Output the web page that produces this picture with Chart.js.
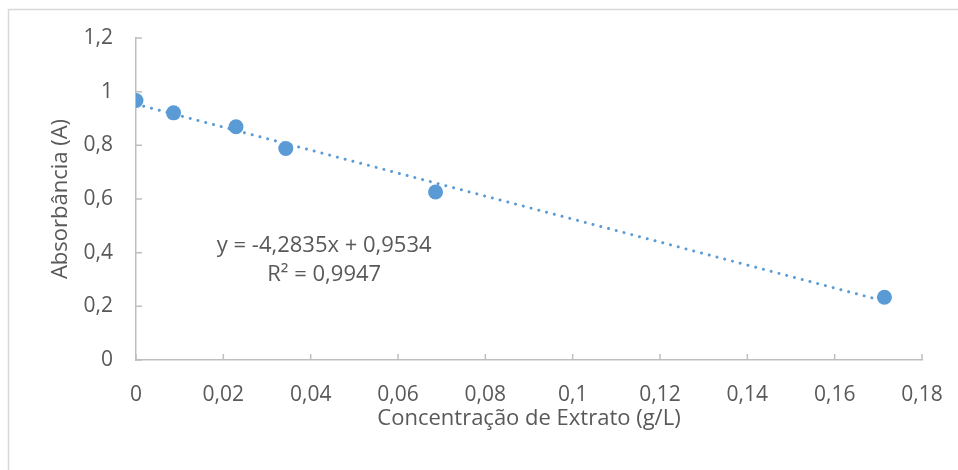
<!DOCTYPE html>
<html>
<head>
<meta charset="utf-8">
<script src="https://cdn.jsdelivr.net/npm/chart.js@4/dist/chart.umd.min.js"></script>
<style>
	html, body { margin: 0; padding: 0; background: #fff; }
	canvas { display: block; }
</style>
</head>
<body>
<canvas id="chart" width="958" height="470"></canvas>
<script>
// dados
const concentracao = [0, 0.0086, 0.0229, 0.0343, 0.0686, 0.1714];
const absorbancia = [0.967, 0.921, 0.869, 0.788, 0.626, 0.234];

// linha de tendência (equação exibida no gráfico)
const inclinacao = -4.2835;
const intercepto = 0.9534;
const equacaoTexto = ["y = -4,2835x + 0,9534", "R² = 0,9947"];

const xTicks = [0, 0.02, 0.04, 0.06, 0.08, 0.1, 0.12, 0.14, 0.16, 0.18];
const yTicks = [0, 0.2, 0.4, 0.6, 0.8, 1, 1.2];

const xTitulo = "Concentração de Extrato (g/L)";
const yTitulo = "Absorbância (A)";

const AZUL = "#5B9BD5";
const CINZA_TEXTO = "#595959";
const CINZA_EIXO = "#BFBFBF";
const FONTE = "'Open Sans', sans-serif";

const formatar = (v) => String(Math.round(v * 100) / 100).replace(".", ",");

const pares = concentracao.map((x, i) => ({ x: x, y: absorbancia[i] }));

const xMin = concentracao[0];
const xMax = concentracao[concentracao.length - 1];
const tendencia = [
	{ x: xMin, y: intercepto + inclinacao * xMin },
	{ x: xMax, y: intercepto + inclinacao * xMax },
];

// moldura, marcas dos eixos e texto da equação
const extras = {
	id: "extras",
	beforeDraw(chart) {
		const ctx = chart.ctx;
		ctx.save();
		ctx.fillStyle = "#fff";
		ctx.fillRect(0, 0, chart.width, chart.height);
		ctx.strokeStyle = "#D9D9D9";
		ctx.lineWidth = 1.5;
		ctx.strokeRect(8.5, 9.5, 2000, 2000);
		ctx.restore();
	},
	afterDatasetsDraw(chart) {
		const ctx = chart.ctx;
		const xs = chart.scales.x;
		const ys = chart.scales.y;
		ctx.save();
		ctx.strokeStyle = CINZA_EIXO;
		ctx.lineWidth = 1.5;
		ctx.beginPath();
		xTicks.forEach((t) => {
			const px = xs.getPixelForValue(t);
			ctx.moveTo(px, ys.bottom);
			ctx.lineTo(px, ys.bottom - 6);
		});
		yTicks.forEach((t) => {
			const py = ys.getPixelForValue(t);
			ctx.moveTo(xs.left, py);
			ctx.lineTo(xs.left + 6, py);
		});
		ctx.stroke();

		ctx.fillStyle = CINZA_TEXTO;
		ctx.font = "22px " + FONTE;
		ctx.textAlign = "center";
		ctx.textBaseline = "middle";
		const cx = xs.getPixelForValue(0.0431);
		const cy = ys.getPixelForValue(0.427);
		equacaoTexto.forEach((linha, i) => {
			ctx.fillText(linha, cx, cy + i * 29);
		});
		ctx.restore();
	},
};

const context = document.getElementById("chart").getContext("2d");

const chart = new Chart(context, {
	type: "scatter",
	data: {
		datasets: [
			{
				label: "Absorbância",
				data: pares,
				backgroundColor: AZUL,
				borderColor: AZUL,
				borderWidth: 0,
				pointRadius: 7.5,
			},
			{
				label: "Linear",
				data: tendencia,
				type: "line",
				showLine: true,
				borderColor: AZUL,
				borderWidth: 3,
				borderDash: [0.01, 8],
				borderCapStyle: "round",
				pointRadius: 0,
				fill: false,
			},
		],
	},
	options: {
		responsive: false,
		animation: false,
		devicePixelRatio: 1,
		layout: { padding: { top: 38, right: 36, left: 0, bottom: 38 } },
		plugins: {
			legend: { display: false },
			tooltip: { enabled: false },
		},
		scales: {
			x: {
				type: "linear",
				min: 0,
				max: 0.18,
				afterFit: (s) => {
					s.height = 72;
					s.paddingLeft = 0;
					s.paddingRight = 0;
				},
				afterBuildTicks: (s) => { s.ticks = xTicks.map((v) => ({ value: v })); },
				grid: { display: false, drawTicks: false },
				border: { display: true, color: CINZA_EIXO, width: 1.5 },
				ticks: {
					padding: 22,
					color: CINZA_TEXTO,
					font: { family: FONTE, size: 21 },
					callback: (v) => formatar(v),
				},
				title: {
					display: true,
					text: xTitulo,
					color: CINZA_TEXTO,
					font: { family: FONTE, size: 22 },
					padding: 0,
				},
			},
			y: {
				type: "linear",
				min: 0,
				max: 1.2,
				afterFit: (s) => {
					s.width = 136;
					s.paddingTop = 0;
					s.paddingBottom = 0;
				},
				afterBuildTicks: (s) => { s.ticks = yTicks.map((v) => ({ value: v })); },
				grid: { display: false, drawTicks: false },
				border: { display: true, color: CINZA_EIXO, width: 1.5 },
				ticks: {
					padding: 23,
					color: CINZA_TEXTO,
					font: { family: FONTE, size: 21 },
					callback: (v) => formatar(v),
				},
				title: {
					display: true,
					text: yTitulo,
					color: CINZA_TEXTO,
					font: { family: FONTE, size: 22 },
					padding: { top: 48, bottom: 0 },
				},
			},
		},
	},
	plugins: [extras],
});
</script>
</body>
</html>
